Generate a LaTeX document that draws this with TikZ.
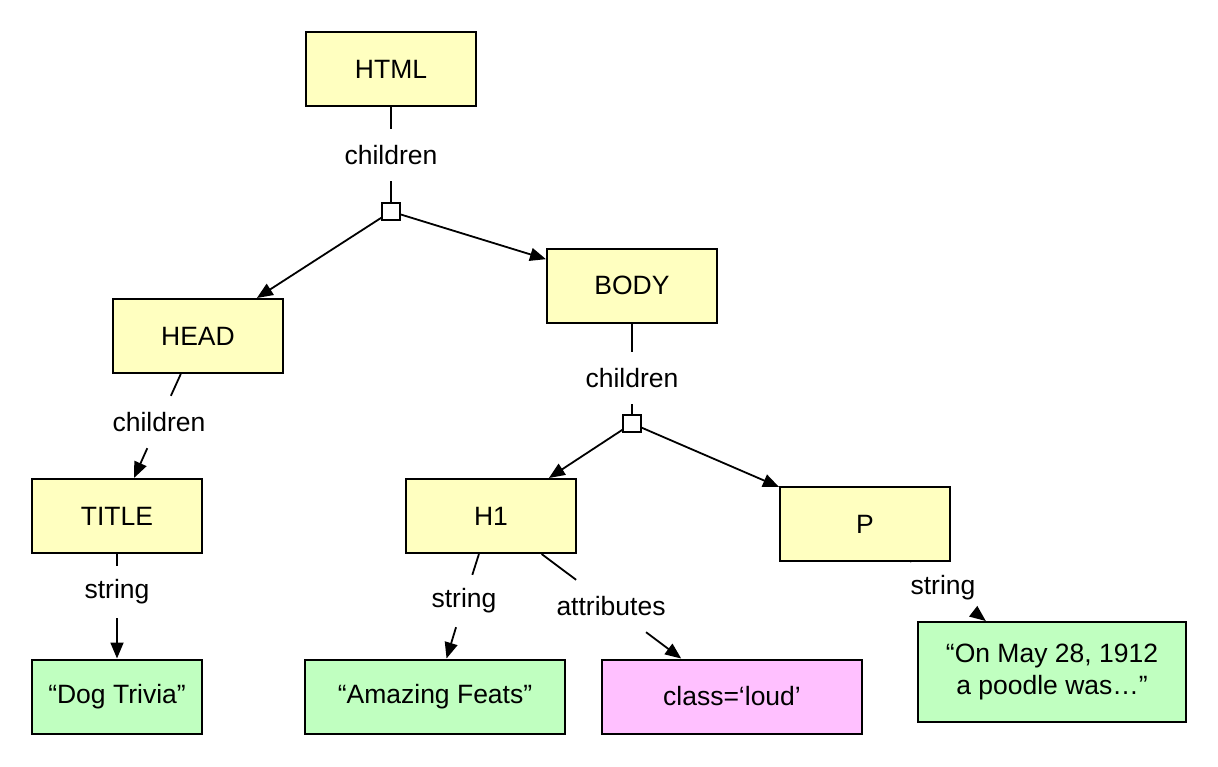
\documentclass[tikz,border=0pt]{standalone}
\usepackage{fontspec}
\setmainfont{Liberation Sans}
\usetikzlibrary{arrows.meta}
\definecolor{elemfill}{HTML}{FFFFC0}
\definecolor{strfill}{HTML}{C0FFC0}
\definecolor{attrfill}{HTML}{FFC0FF}
\begin{document}
\begin{tikzpicture}[x=1pt,y=-1pt,
  font=\fontsize{26.5}{32}\selectfont,
  box/.style={draw,line width=2pt,minimum width=170pt,minimum height=74pt,inner sep=0pt,anchor=center,align=center},
  elem/.style={box,fill=elemfill},
  strbox/.style={box,fill=strfill},
  attrbox/.style={box,fill=attrfill},
  lab/.style={inner sep=0pt,minimum height=52pt,anchor=center},
  junc/.style={draw,fill=white,line width=1.5pt,minimum width=18pt,minimum height=17pt,inner sep=0pt},
  conn/.style={line width=1.8pt},
  arr/.style={conn,-{Triangle[length=16pt,width=13pt]}}
]
\useasboundingbox (0,0) rectangle (1218,766);
% element boxes
\node[elem] (html) at (391,69) {HTML};
\node[elem] (head) at (198,336) {HEAD};
\node[elem] (body) at (632,285.5) {BODY};
\node[elem] (title) at (117,516) {TITLE};
\node[elem] (h1) at (491,516) {H1};
\node[elem] (p) at (865,524) {P};
% string / attribute boxes
\node[strbox] (dog) at (117,696.5) {“Dog Trivia”};
\node[strbox,minimum width=260pt] (feats) at (435,696.5) {“Amazing Feats”};
\node[attrbox,minimum width=260pt] (cls) at (732,696.5) {class=‘loud’};
\node[strbox,minimum width=268pt,minimum height=100pt] (poodle) at (1052,672) {“On May 28, 1912\\a poodle was…”};
% junctions
\node[junc] (j1) at (391,211.5) {};
\node[junc] (j2) at (632,423.5) {};
% labels
\node[lab] (c1) at (391,155) {children};
\node[lab] (c2) at (632,378) {children};
\node[lab] (c3) at (159,422) {children};
\node[lab] (s1) at (117,592) {string};
\node[lab] (s2) at (464,601) {string};
\node[lab] (a1) at (611,606) {attributes};
\node[lab] (s3) at (943,588) {string};
% connectors
\draw[conn] (html) -- (c1);
\draw[conn] (c1) -- (j1);
\draw[arr] (j1) -- (head);
\draw[arr] (j1) -- (body);
\draw[conn] (body) -- (c2);
\draw[conn] (c2) -- (j2);
\draw[arr] (j2) -- (h1);
\draw[arr] (j2) -- (p);
\draw[conn] (head) -- (c3);
\draw[arr] (c3) -- (title);
\draw[conn] (title) -- (s1);
\draw[arr] (s1) -- (dog);
\draw[conn] (h1) -- (s2);
\draw[arr] (s2) -- (feats);
\draw[conn] (h1) -- (a1);
\draw[arr] (a1) -- (cls);
\draw[conn] (p) -- (s3);
\draw[arr] (s3) -- (poodle);
\end{tikzpicture}
\end{document}
